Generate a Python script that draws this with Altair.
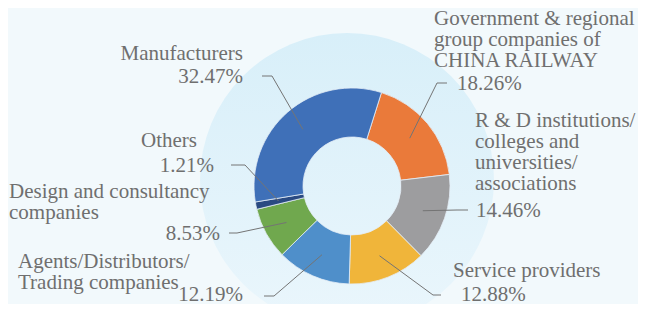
import math
import altair as alt
import pandas as pd

# ---- data ----
categories = [
    "Government & regional group companies of CHINA RAILWAY",
    "R & D institutions/colleges and universities/associations",
    "Service providers",
    "Agents/Distributors/Trading companies",
    "Design and consultancy companies",
    "Others",
    "Manufacturers",
]
values = [18.26, 14.46, 12.88, 12.19, 8.53, 1.21, 32.47]
pct_labels = ["18.26%", "14.46%", "12.88%", "12.19%", "8.53%", "1.21%", "32.47%"]
name_lines = [
    ["Government & regional", "group companies of", "CHINA RAILWAY"],
    ["R & D institutions/", "colleges and", "universities/", "associations"],
    ["Service providers"],
    ["Agents/Distributors/", "Trading companies"],
    ["Design and consultancy", "companies"],
    ["Others"],
    ["Manufacturers"],
]
colors = ["#ea7a3a", "#9d9d9f", "#f0b53a", "#4f8fca", "#70a84e", "#2a4a82", "#3f70b8"]

# ---- layout (pixels, chart coordinates) ----
CX, CY = 344, 178
R_OUT, R_IN, R_LEAD = 98, 49, 75
A0 = math.radians(17.5)
LH = 21
name_pos = [(426, 17, "left"), (467, 119, "left"), (445, 269, "left"), (10, 260, "left"),
            (1, 190, "left"), (189, 139, "right"), (235, 52, "right")]
pct_pos = [(449, 82, "left"), (468, 209, "left"), (453, 293, "left"), (235, 293, "right"),
           (212, 232, "right"), (206, 164, "right"), (235, 75, "right")]
lead_elbow = [(429, 75), (449, 202), (425, 287), (266, 288), (229, 225), (237, 157), (264, 68)]
lead_end = [(439, 75), (460, 202), (433, 287), (256, 288), (221, 225), (223, 157), (254, 68)]

FONT = "Liberation Serif"
TXT = "#6f6f6f"

df = pd.DataFrame({"category": categories, "value": values, "idx": list(range(len(values)))})

# leader lines
rows = []
cum = 0.0
total = sum(values)
for i, v in enumerate(values):
    mid = A0 + 2 * math.pi * (cum + v / 2) / total
    cum += v
    p0 = (CX + R_LEAD * math.sin(mid), CY - R_LEAD * math.cos(mid))
    for s, p in enumerate([p0, lead_elbow[i], lead_end[i]]):
        rows.append({"category": categories[i], "step": s, "px": p[0], "py": p[1]})
lead_df = pd.DataFrame(rows)

text_rows = []
for i in range(len(values)):
    for k, line in enumerate(name_lines[i]):
        text_rows.append({"t": line, "px": name_pos[i][0], "py": name_pos[i][1] + k * LH, "al": name_pos[i][2]})
    text_rows.append({"t": pct_labels[i], "px": pct_pos[i][0], "py": pct_pos[i][1], "al": pct_pos[i][2]})
text_df = pd.DataFrame(text_rows)

bg = alt.Chart(pd.DataFrame({"k": [0]})).mark_arc(
    theta=0, theta2=2 * math.pi, outerRadius=147,
    fill=alt.Gradient(gradient="linear",
                      stops=[alt.GradientStop(color="#d8eff9", offset=0),
                             alt.GradientStop(color="#eaf6fc", offset=1)],
                      x1=0, x2=0, y1=0, y2=1),
).encode(x=alt.value(339), y=alt.value(172))

donut = alt.Chart(df).mark_arc(
    innerRadius=R_IN, outerRadius=R_OUT, stroke="#e4edf6", strokeWidth=0.8
).encode(
    theta=alt.Theta("value:Q", stack=True,
                    scale=alt.Scale(domain=[0, 100], range=[A0, A0 + 2 * math.pi])),
    color=alt.Color("category:N", scale=alt.Scale(domain=categories, range=colors), legend=None),
    order=alt.Order("idx:Q"),
    x=alt.value(CX), y=alt.value(CY),
)

leaders = alt.Chart(lead_df).mark_line(color="#747474", strokeWidth=1).encode(
    x=alt.X("px:Q", scale=None, axis=None),
    y=alt.Y("py:Q", scale=None, axis=None),
    detail="category:N",
    order="step:Q",
)

def text_layer(al):
    return alt.Chart(text_df[text_df.al == al]).mark_text(
        align=al, baseline="alphabetic", font=FONT, fontSize=21, color=TXT,
    ).encode(
        x=alt.X("px:Q", scale=None, axis=None),
        y=alt.Y("py:Q", scale=None, axis=None),
        text="t:N",
    )

chart = alt.layer(bg, donut, leaders, text_layer("left"), text_layer("right")).properties(
    width=630, height=296, autosize="none", padding=0, background="#f2f9fc"
).configure_view(stroke=None)

chart.save("out.html", embed_options={"renderer": "svg", "actions": False})
